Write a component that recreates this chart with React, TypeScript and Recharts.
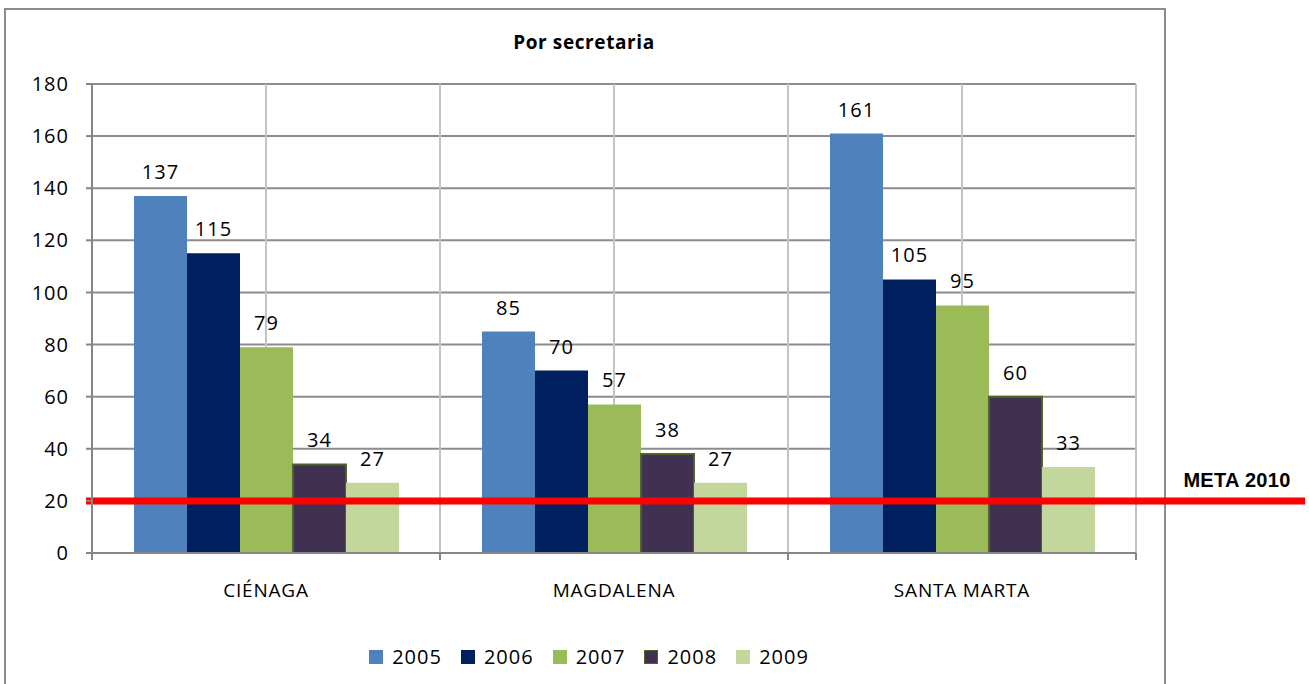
import {
  BarChart,
  Bar,
  XAxis,
  YAxis,
  CartesianGrid,
  Legend,
  ReferenceLine,
  LabelList,
} from 'recharts';

const categories = ['CIÉNAGA', 'MAGDALENA', 'SANTA MARTA'];
const years = ['2005', '2006', '2007', '2008', '2009'];
const values2005 = [137, 85, 161];
const values2006 = [115, 70, 105];
const values2007 = [79, 57, 95];
const values2008 = [34, 38, 60];
const values2009 = [27, 27, 33];
const yTicks = [0, 20, 40, 60, 80, 100, 120, 140, 160, 180];
const meta2010 = 20;

const colors = ['#4F81BD', '#002060', '#9BBB59', '#403152', '#C3D69B'];
const strokes = ['none', 'none', 'none', '#4F6228', 'none'];

const seriesValues = [values2005, values2006, values2007, values2008, values2009];

const chartData = categories.map((name, i) => {
  const row: Record<string, string | number> = { name };
  years.forEach((y, s) => {
    row[y] = seriesValues[s][i];
  });
  return row;
});

const W = 1309;
const H = 684;
const FONT = '"Open Sans", "Noto Sans", sans-serif';
const AXIS = '#868686';
const bandHalf = (W - 92 - 173) / categories.length / 2;

// category label plus the boundary tick marks Excel draws between groups
function CategoryTick(props: any) {
  const { x, y, payload, index } = props;
  return (
    <g>
      <line x1={x - bandHalf} y1={y - 8} x2={x - bandHalf} y2={y - 1} stroke={AXIS} strokeWidth={2} />
      {index === categories.length - 1 && (
        <line x1={x + bandHalf} y1={y - 8} x2={x + bandHalf} y2={y - 1} stroke={AXIS} strokeWidth={2} />
      )}
      <text x={x} y={y + 36} textAnchor="middle" fontSize={19} letterSpacing={0.8} fill="#000" fontFamily={FONT}>
        {payload.value}
      </text>
    </g>
  );
}

function LegendContent() {
  return (
    <div
      style={{
        display: 'flex',
        justifyContent: 'center',
        gap: 19,
        fontFamily: FONT,
        fontSize: 20,
        letterSpacing: 1,
        color: '#000',
        marginLeft: 42,
        marginTop: -2,
      }}
    >
      {years.map((y, i) => (
        <div key={y} style={{ display: 'flex', alignItems: 'center', gap: 9 }}>
          <span
            style={{
              display: 'inline-block',
              width: 14,
              height: 14,
              background: colors[i],
              boxSizing: 'border-box',
              border: strokes[i] === 'none' ? 'none' : `1px solid ${strokes[i]}`,
            }}
          />
          {y}
        </div>
      ))}
    </div>
  );
}

function MetaLine(props: any) {
  const { x1, y1, y2 } = props;
  return <line x1={x1 - 6} y1={y1} x2={W - 4} y2={y2} stroke="#FF0000" strokeWidth={7} />;
}

export default function App() {
  return (
    <div style={{ position: 'absolute', left: 0, top: 0, width: W, height: H, background: '#fff', overflow: 'hidden' }}>
      <div
        style={{
          position: 'absolute',
          left: 4,
          top: 8,
          width: 1158,
          height: 700,
          border: '2px solid #8C8C8C',
        }}
      />
      <div
        style={{
          position: 'absolute',
          left: 4,
          width: 1160,
          top: 29,
          textAlign: 'center',
          fontFamily: FONT,
          fontWeight: 700,
          fontSize: 19,
          letterSpacing: 0.6,
        }}
      >
        Por secretaria
      </div>
      <div style={{ position: 'absolute', left: 0, top: 0 }}>
        <BarChart
          width={W}
          height={H}
          data={chartData}
          margin={{ top: 84, right: 173, left: 0, bottom: 14 }}
          barSize={53}
          barGap={0}
        >
          <CartesianGrid
            vertical={false}
            stroke="#8C8C8C"
            strokeWidth={2}
          />
          <CartesianGrid
            horizontal={false}
            stroke="#C4C4C4"
            strokeWidth={2}
            verticalCoordinatesGenerator={({ offset }: any) =>
              [0, 1, 2, 3, 4, 5, 6].map((i) => offset.left + (i * offset.width) / 6)
            }
          />
          <XAxis
            dataKey="name"
            height={92}
            axisLine={{ stroke: AXIS, strokeWidth: 2 }}
            tickLine={false}
            tick={<CategoryTick />}
            interval={0}
          />
          <YAxis
            width={92}
            domain={[0, 180]}
            ticks={yTicks}
            interval={0}
            axisLine={{ stroke: AXIS, strokeWidth: 2 }}
            tickLine={{ stroke: AXIS, strokeWidth: 2 }}
            tickSize={6}
            tickMargin={17}
            tick={{ fontSize: 20, fill: '#000', fontFamily: FONT, letterSpacing: 1 }}
          />
          <Legend verticalAlign="bottom" content={<LegendContent />} />
          {years.map((y, i) => (
            <Bar
              key={y}
              dataKey={y}
              fill={colors[i]}
              stroke={strokes[i]}
              strokeWidth={strokes[i] === 'none' ? 0 : 2}
              isAnimationActive={false}
            >
              <LabelList
                dataKey={y}
                position="top"
                offset={17}
                fontSize={20}
                letterSpacing={1}
                fill="#000"
                fontFamily={FONT}
              />
            </Bar>
          ))}
          <ReferenceLine
            y={meta2010}
            shape={<MetaLine />}
            ifOverflow="visible"
            label={(p: any) => (
              <text
                x={p.viewBox.x + p.viewBox.width + 101}
                y={p.viewBox.y - 14}
                textAnchor="middle"
                fontSize={20}
                fontWeight={700}
                letterSpacing={0.3}
                fontFamily='"Liberation Sans", Arial, sans-serif'
                fill="#000"
              >
                META 2010
              </text>
            )}
          />
        </BarChart>
      </div>
    </div>
  );
}
